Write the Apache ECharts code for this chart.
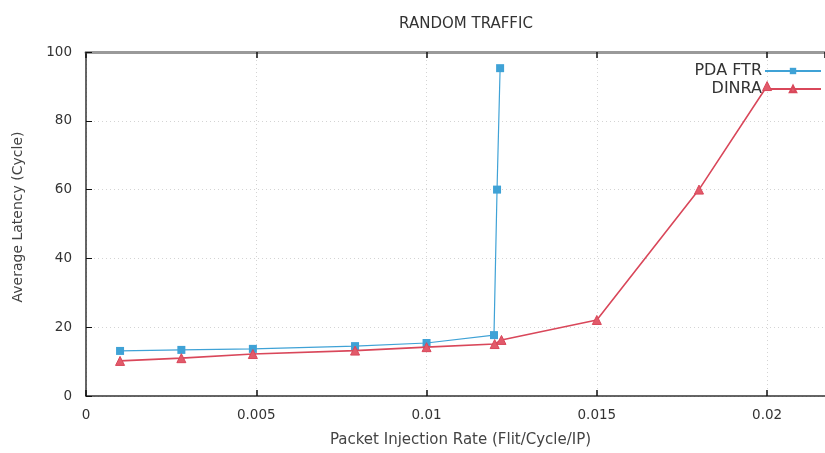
<!DOCTYPE html>
<html>
<head>
<meta charset="utf-8">
<script src="https://cdn.jsdelivr.net/npm/echarts@6/dist/echarts.min.js"></script>
<style>
  html, body { margin: 0; padding: 0; background: #fff; }
  #chart { width: 825px; height: 453px; }
</style>
</head>
<body>
<div id="chart"></div>
<script>
// Injection rate (flit/cycle/IP) and average latency (cycles) per router design
const pdaRate    = [0.001, 0.0028, 0.0049, 0.0079, 0.0100, 0.01198, 0.01207, 0.01216];
const pdaLatency = [13.1, 13.4, 13.7, 14.5, 15.4, 17.7, 60.0, 95.3];

const dinraRate    = [0.001, 0.0028, 0.0049, 0.0079, 0.0100, 0.0120, 0.0122, 0.015, 0.018, 0.020];
const dinraLatency = [10.2, 11.0, 12.2, 13.2, 14.2, 15.1, 16.3, 22.1, 60.0, 90.1];

const seriesNames = ['PDA FTR', 'DINRA'];
// the visible part of the x range stops a little past 0.02
const xTicks = { min: 0, max: 0.0217, step: 0.005 };
const yTicks = { min: 0, max: 100, step: 20 };

const pair = (xs, ys) => xs.map((x, i) => [x, ys[i]]);

const BLUE = '#3fa2d6';
const RED = '#d9475a';
const FONT = 'DejaVu Sans, sans-serif';
const GRID_LINE = { show: true, showMaxLine: false, lineStyle: { color: '#d4d4d4', type: [1, 3], width: 1 } };

const chart = echarts.init(document.getElementById('chart'), null, { renderer: 'canvas' });
chart.setOption({
  animation: false,
  backgroundColor: '#fff',
  title: {
    text: 'RANDOM TRAFFIC',
    left: 461, top: 12, textAlign: 'center',
    textStyle: { fontFamily: FONT, fontSize: 15, fontWeight: 'normal', color: '#333' }
  },
  legend: {
    orient: 'vertical',
    right: -2, top: 58,
    align: 'right',
    itemWidth: 56, itemHeight: 8, itemGap: 2,
    textStyle: { fontFamily: FONT, fontSize: 16, lineHeight: 16, color: '#333', padding: [0, -2, 0, 0] },
    data: seriesNames
  },
  grid: { left: 86, right: 0, top: 52, bottom: 57, containLabel: false },
  xAxis: [{
    type: 'value',
    min: xTicks.min, max: xTicks.max, interval: xTicks.step,
    name: 'Packet Injection Rate (Flit/Cycle/IP)',
    nameLocation: 'middle', nameGap: 37,
    nameTextStyle: { fontFamily: FONT, fontSize: 15, color: '#444', padding: [0, 0, 0, 10] },
    axisLine: { onZero: false, lineStyle: { color: '#333', width: 1.5 } },
    axisTick: { inside: true, length: 6, lineStyle: { color: '#111', width: 1.5 } },
    axisLabel: { fontFamily: FONT, fontSize: 13.5, color: '#333', margin: 12, showMaxLabel: false },
    splitLine: GRID_LINE
  }, {
    type: 'value', position: 'top',
    min: xTicks.min, max: xTicks.max, interval: xTicks.step,
    axisLine: { show: true, onZero: false, lineStyle: { color: '#9a9a9a', width: 3 } },
    axisTick: { show: true, inside: true, length: 6, lineStyle: { color: '#111', width: 1.5 } },
    axisLabel: { show: false },
    splitLine: { show: false }
  }],
  yAxis: {
    type: 'value',
    min: yTicks.min, max: yTicks.max, interval: yTicks.step,
    name: 'Average Latency (Cycle)',
    nameLocation: 'middle', nameGap: 61,
    nameTextStyle: { fontFamily: FONT, fontSize: 14, color: '#444', padding: [0, 0, 0, 14] },
    axisLine: { show: true, lineStyle: { color: '#333', width: 1.5 } },
    axisTick: { show: true, inside: true, length: 6, lineStyle: { color: '#111', width: 1 } },
    axisLabel: { fontFamily: FONT, fontSize: 13.5, color: '#333', margin: 14 },
    splitLine: { show: true, lineStyle: { color: '#d4d4d4', type: [1, 3], width: 1 } }
  },
  series: [{
    name: seriesNames[0], type: 'line',
    data: pair(pdaRate, pdaLatency),
    symbol: 'rect', symbolSize: 8,
    itemStyle: { color: BLUE },
    lineStyle: { color: BLUE, width: 1.2 },
    z: 3
  }, {
    name: seriesNames[1], type: 'line',
    data: pair(dinraRate, dinraLatency),
    symbol: 'triangle', symbolSize: 9,
    itemStyle: { color: '#e25a6a', borderColor: RED, borderWidth: 1 },
    lineStyle: { color: RED, width: 1.6 },
    z: 4
  }]
});
</script>
</body>
</html>
